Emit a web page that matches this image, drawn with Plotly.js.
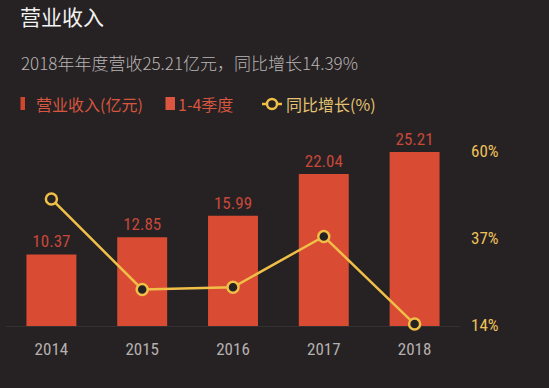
<!DOCTYPE html>
<html>
<head>
<meta charset="utf-8">
<script src="https://cdn.plot.ly/plotly-3.0.1.min.js"></script>
<style>
  html, body { margin: 0; padding: 0; background: #262223; }
  #chart { width: 549px; height: 388px; }
</style>
</head>
<body>
<div id="chart"></div>
<script>
// ---- data ----
var years = ['2014', '2015', '2016', '2017', '2018'];
var revenue = [10.37, 12.85, 15.99, 22.04, 25.21];          // 营业收入(亿元)
var growth = [47.4, 23.5, 24.1, 37.5, 14.39];              // 同比增长(%)
var growthTicks = [14, 37, 60];
var growthTickText = ['14%', '37%', '60%'];

var BG = '#262223';
var BAR = '#d94b32';
var YEL = '#f0bf48';
var NUMFONT = '"Liberation Sans Narrow", "Roboto Condensed", "DejaVu Sans Condensed", sans-serif';
var CJK = '"Noto Sans CJK SC", "Noto Sans", sans-serif';

// px -> paper helpers (plot area: x 6..460, y 140..326)
function px(x) { return (x - 6) / 454; }
function py(y) { return (326 - y) / 186; }

var bars = {
  type: 'bar', x: years, y: revenue, yaxis: 'y',
  marker: { color: BAR },
  text: revenue.map(function (v) { return v.toFixed(2); }),
  textposition: 'outside',
  textfont: { family: NUMFONT, size: 17, color: '#c9483a' },
  cliponaxis: false,
  hoverinfo: 'skip'
};
var line = {
  type: 'scatter', mode: 'lines+markers', x: years, y: growth, yaxis: 'y2',
  line: { color: YEL, width: 2.5 },
  marker: { size: 11, color: BG, line: { color: YEL, width: 2.5 } },
  cliponaxis: false,
  hoverinfo: 'skip'
};

var layout = {
  width: 549, height: 388,
  paper_bgcolor: BG, plot_bgcolor: BG,
  margin: { l: 6, r: 89, t: 140, b: 62 },
  showlegend: false,
  bargap: 0.45,
  title: {
    text: '营业收入', xref: 'container', yref: 'container',
    x: 20 / 549, xanchor: 'left', y: 1 - 18 / 388, yanchor: 'middle',
    font: { family: CJK, size: 21, color: '#f2f2f2' }
  },
  xaxis: {
    type: 'category', range: [-0.5, 4.5], showgrid: false, zeroline: false,
    showline: false, ticks: '', ticklabelstandoff: 11,
    tickfont: { family: NUMFONT, size: 17, color: '#b5b1b0' }
  },
  yaxis: {
    range: [0, 26.95], visible: true, showgrid: false, showticklabels: false,
    zeroline: true, zerolinecolor: '#353031', zerolinewidth: 1, ticks: ''
  },
  yaxis2: {
    overlaying: 'y', side: 'right', range: [13.87, 62.94],
    showgrid: false, zeroline: false, ticks: '',
    tickvals: growthTicks, ticktext: growthTickText, ticklabelstandoff: 10,
    tickfont: { family: NUMFONT, size: 17, color: '#eec15a' }
  },
  annotations: [
    { text: '2018年年度营收25.21亿元，同比增长14.39%', xref: 'paper', yref: 'paper',
      x: px(19), y: py(63), xanchor: 'left', yanchor: 'middle', showarrow: false,
      font: { family: CJK, size: 17, color: '#b8b4b3', weight: 300 } },
    { text: '营业收入(亿元)', xref: 'paper', yref: 'paper',
      x: px(34), y: py(104), xanchor: 'left', yanchor: 'middle', showarrow: false,
      font: { family: CJK, size: 16, color: '#d8553f' } },
    { text: '1-4季度', xref: 'paper', yref: 'paper',
      x: px(176), y: py(104), xanchor: 'left', yanchor: 'middle', showarrow: false,
      font: { family: CJK, size: 16, color: '#d8553f' } },
    { text: '同比增长(%)', xref: 'paper', yref: 'paper',
      x: px(284), y: py(104), xanchor: 'left', yanchor: 'middle', showarrow: false,
      font: { family: CJK, size: 16, color: '#e3c271' } }
  ],
  shapes: [
    { type: 'rect', xref: 'paper', yref: 'paper', x0: px(20.5), x1: px(25), y0: py(110), y1: py(97),
      fillcolor: '#d2452e', line: { width: 0 } },
    { type: 'rect', xref: 'paper', yref: 'paper', x0: px(165.5), x1: px(175), y0: py(110), y1: py(97),
      fillcolor: '#dc5540', line: { width: 0 } },
    { type: 'line', xref: 'paper', yref: 'paper', x0: px(262), x1: px(282), y0: py(104), y1: py(104),
      line: { color: YEL, width: 2.5 } },
    { type: 'circle', xref: 'paper', yref: 'paper', x0: px(267), x1: px(277), y0: py(109), y1: py(99),
      fillcolor: BG, line: { color: YEL, width: 2.5 } }
  ]
};

Plotly.newPlot('chart', [bars, line], layout, { displayModeBar: false, staticPlot: true });
</script>
</body>
</html>
